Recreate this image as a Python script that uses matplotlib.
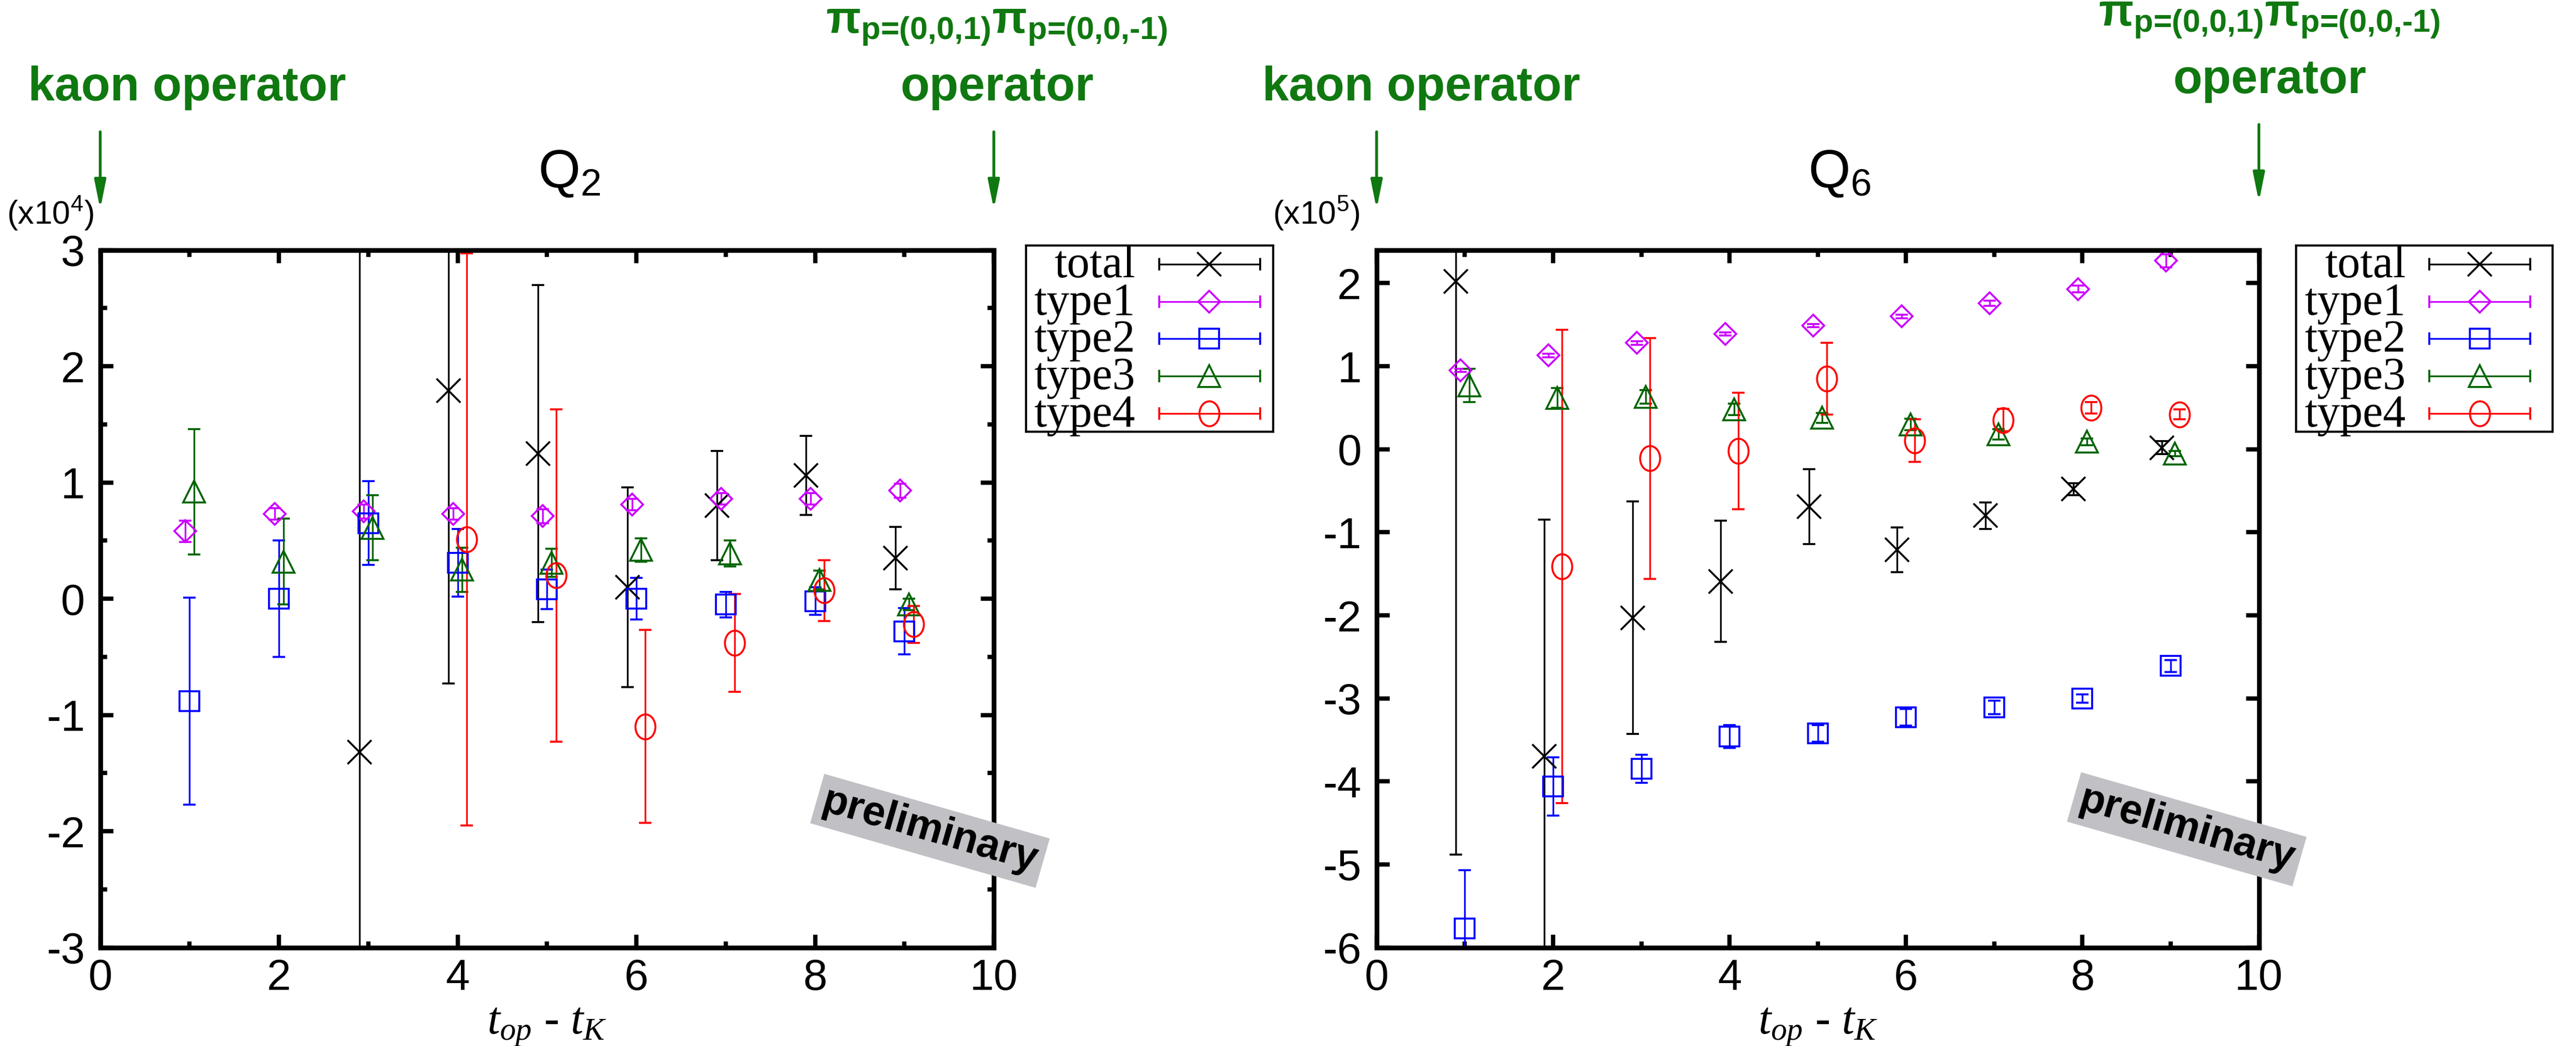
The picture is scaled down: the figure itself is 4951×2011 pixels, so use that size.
import numpy as np
import matplotlib
matplotlib.use('Agg')
import matplotlib.pyplot as plt
from matplotlib import font_manager
from matplotlib.path import Path
from matplotlib.transforms import blended_transform_factory

# time slices t_op - t_K
t = np.arange(1, 10)
nan = np.nan

# Q2 (units of 1e4)
q2_total = [nan, nan, -1.32, 1.79, 1.25, 0.10, 0.80, 1.06, 0.35]
q2_total_err = [nan, nan, 5.0, 2.52, 1.45, 0.86, 0.47, 0.34, 0.27]
q2_type1 = [0.58, 0.73, 0.75, 0.73, 0.71, 0.81, 0.86, 0.86, 0.93]
q2_type1_err = [0.09, 0.05, 0.06, 0.05, 0.06, 0.05, 0.05, 0.05, 0.06]
q2_type2 = [-0.88, 0.00, 0.65, 0.31, 0.08, 0.00, -0.05, -0.02, -0.28]
q2_type2_err = [0.89, 0.50, 0.36, 0.29, 0.17, 0.18, 0.11, 0.12, 0.20]
q2_type3 = [0.92, 0.32, 0.61, 0.25, 0.31, 0.42, 0.39, 0.16, -0.05]
q2_type3_err = [0.54, 0.37, 0.28, 0.19, 0.12, 0.10, 0.11, 0.08, 0.05]
q2_type4 = [nan, nan, nan, 0.51, 0.20, -1.10, -0.38, 0.07, -0.22]
q2_type4_err = [nan, nan, nan, 2.46, 1.43, 0.83, 0.42, 0.26, 0.16]

# Q6 (units of 1e5)
q6_total = [2.02, -3.70, -2.03, -1.59, -0.69, -1.21, -0.80, -0.48, 0.02]
q6_total_err = [6.9, 2.85, 1.40, 0.73, 0.45, 0.27, 0.16, 0.07, 0.08]
q6_type1 = [0.95, 1.13, 1.28, 1.39, 1.49, 1.60, 1.76, 1.93, 2.27]
q6_type1_err = [0.02, 0.02, 0.02, 0.02, 0.02, 0.02, 0.03, 0.04, 0.08]
q6_type2 = [-5.77, -4.06, -3.85, -3.46, -3.42, -3.23, -3.11, -3.00, -2.61]
q6_type2_err = [0.70, 0.35, 0.17, 0.14, 0.10, 0.10, 0.08, 0.05, 0.07]
q6_type3 = [0.77, 0.62, 0.63, 0.48, 0.38, 0.30, 0.18, 0.09, -0.05]
q6_type3_err = [0.20, 0.12, 0.08, 0.07, 0.06, 0.07, 0.06, 0.04, 0.03]
q6_type4 = [nan, -1.41, -0.11, -0.02, 0.85, 0.105, 0.35, 0.50, 0.42]
q6_type4_err = [nan, 2.85, 1.45, 0.70, 0.43, 0.255, 0.135, 0.07, 0.06]

labels = ['total', 'type1', 'type2', 'type3', 'type4']

installed = {f.name for f in font_manager.fontManager.ttflist}
NARROW = 'Liberation Sans Narrow' if 'Liberation Sans Narrow' in installed else 'Liberation Sans'

plt.rcParams['font.family'] = 'Liberation Sans'
plt.rcParams['axes.unicode_minus'] = False
plt.rcParams['mathtext.fontset'] = 'custom'
# \text{} pieces (only used in the green pion label) come from the rm font
plt.rcParams['mathtext.rm'] = 'Liberation Sans:bold'
plt.rcParams['mathtext.it'] = 'Liberation Serif:italic'
plt.rcParams['mathtext.bf'] = 'Liberation Sans:bold'

GREEN = '#107810'

# slightly tall ellipse, like the gnuplot circles
circ = Path.unit_circle()
ellipse = Path(circ.vertices * [0.8, 1.0], circ.codes)

styles = {
    'total': dict(color='black', marker='x', ms=11, dx=-0.1),
    'type1': dict(color='#cc00ff', marker='D', ms=7, dx=-0.05),
    'type2': dict(color='#0000ff', marker='s', ms=9, dx=0.0),
    'type3': dict(color='#006400', marker='^', ms=10, dx=0.05),
    'type4': dict(color='#ff0000', marker=ellipse, ms=11.5, dx=0.1),
}


def draw_series(ax, x, y, err, st, xerr=None):
    ax.errorbar(x, y, yerr=err, xerr=xerr, marker=st['marker'], ms=st['ms'],
                mfc='none', mec=st['color'], mew=0.9, color=st['color'],
                ecolor=st['color'], elinewidth=0.8, capsize=2.8, capthick=0.8,
                linestyle='none')


def setup_axes(ax, ylim, yticks, yminor):
    ax.set_xlim(0, 10)
    ax.set_ylim(*ylim)
    ax.set_xticks([0, 2, 4, 6, 8, 10])
    ax.set_xticks([1, 3, 5, 7, 9], minor=True)
    ax.set_yticks(yticks)
    if yminor is not None:
        ax.set_yticks(yminor, minor=True)
    ax.tick_params(which='both', direction='in', top=True, right=True, width=2.0,
                   labelsize=20)
    ax.tick_params(which='major', length=6)
    ax.tick_params(which='minor', length=3)
    ax.tick_params(axis='x', pad=5)
    ax.tick_params(axis='y', pad=7)
    for s in ax.spines.values():
        s.set_linewidth(2.2)
    ax.set_xlabel(r'$t_{op}$ - $t_{K}$', family='Liberation Serif', size=21, labelpad=3)


def draw_legend(fig, rect, line_x, mark_x, text_x):
    lax = fig.add_axes(rect)
    lax.set_xlim(0, 1)
    lax.set_ylim(0, 5)
    lax.set_xticks([])
    lax.set_yticks([])
    for s in lax.spines.values():
        s.set_linewidth(1.0)
    for i, name in enumerate(labels):
        yy = 4.5 - i
        st = styles[name]
        draw_series(lax, [mark_x], [yy], None, st,
                    xerr=[[mark_x - line_x[0]], [line_x[1] - mark_x]])
        lax.text(text_x, yy - 0.05, name, ha='right', va='center',
                 family='Liberation Serif', size=21)


fig = plt.figure(figsize=(4951 / 300, 2011 / 300), dpi=300)

panels = [
    dict(rect=[0.0389, 0.0942, 0.3469, 0.6668], data=[
        (q2_total, q2_total_err), (q2_type1, q2_type1_err), (q2_type2, q2_type2_err),
        (q2_type3, q2_type3_err), (q2_type4, q2_type4_err)],
         ylim=(-3, 3), yticks=np.arange(-3, 4), yminor=np.arange(-2.5, 3, 1.0),
         title='Q$\\mathregular{_2}$', scale='(x10$\\mathregular{^4}$)', scale_x=0.0026,
         legend=([0.3983, 0.5871, 0.0960, 0.1780], (0.539, 0.947), 0.741, 0.442),
         kaon_x=0.0727, op_x=0.387, op_dy=0.0, prelim=(0.361, 0.2057)),
    dict(rect=[0.5344, 0.0942, 0.3425, 0.6668], data=[
        (q6_total, q6_total_err), (q6_type1, q6_type1_err), (q6_type2, q6_type2_err),
        (q6_type3, q6_type3_err), (q6_type4, q6_type4_err)],
         ylim=(-6, 2.4), yticks=np.arange(-6, 3), yminor=None,
         title='Q$\\mathregular{_6}$', scale='(x10$\\mathregular{^5}$)', scale_x=0.494,
         legend=([0.8913, 0.5871, 0.0996, 0.1780], (0.52, 0.913), 0.716, 0.428),
         kaon_x=0.5517, op_x=0.881, op_dy=0.007, prelim=(0.8489, 0.2072)),
]

pion_label = (r'$\mathregular{\pi}_{\text{p=(0,0,1)}}'
              r'\mathregular{\pi}_{\text{p=(0,0,-1)}}$')

for p in panels:
    ax = fig.add_axes(p['rect'])
    for name, (vals, errs) in zip(labels, p['data']):
        st = styles[name]
        draw_series(ax, t + st['dx'], np.array(vals), np.array(errs), st)
    setup_axes(ax, p['ylim'], p['yticks'], p['yminor'])

    ax.text(0.525, 1.11, p['title'], transform=ax.transAxes, ha='center', va='center',
            family=NARROW, size=25)
    fig.text(p['scale_x'], 0.796, p['scale'], ha='left', va='center', family=NARROW, size=15)

    draw_legend(fig, *p['legend'])

    # operator annotations
    fig.text(p['kaon_x'], 0.904, 'kaon operator', ha='center', va='baseline',
             family=NARROW, weight='bold', size=22, color=GREEN)
    fig.text(p['op_x'], 0.904 + p['op_dy'], 'operator', ha='center', va='baseline',
             family=NARROW, weight='bold', size=22, color=GREEN)
    fig.text(p['op_x'], 0.975 + p['op_dy'], pion_label, ha='center', va='center',
             family=NARROW, weight='bold', size=21, color=GREEN)
    tr = blended_transform_factory(ax.transData, fig.transFigure)
    for xa, dy in ((0, 0.0), (10, p['op_dy'])):
        ax.annotate('', xy=(xa, 0.800 + dy), xytext=(xa, 0.874 + dy), xycoords=tr,
                    textcoords=tr, annotation_clip=False,
                    arrowprops=dict(arrowstyle='-|>,head_length=1.1,head_width=0.22',
                                    color=GREEN, lw=1.3, shrinkA=0, shrinkB=0,
                                    mutation_scale=10))

    fig.text(p['prelim'][0], p['prelim'][1], 'preliminary', rotation=-16, ha='center',
             va='center', weight='bold', size=19, color='black',
             bbox=dict(boxstyle='square,pad=0.15', fc='#c0c0c5', ec='none'))

fig.savefig('out.png', dpi=300)
